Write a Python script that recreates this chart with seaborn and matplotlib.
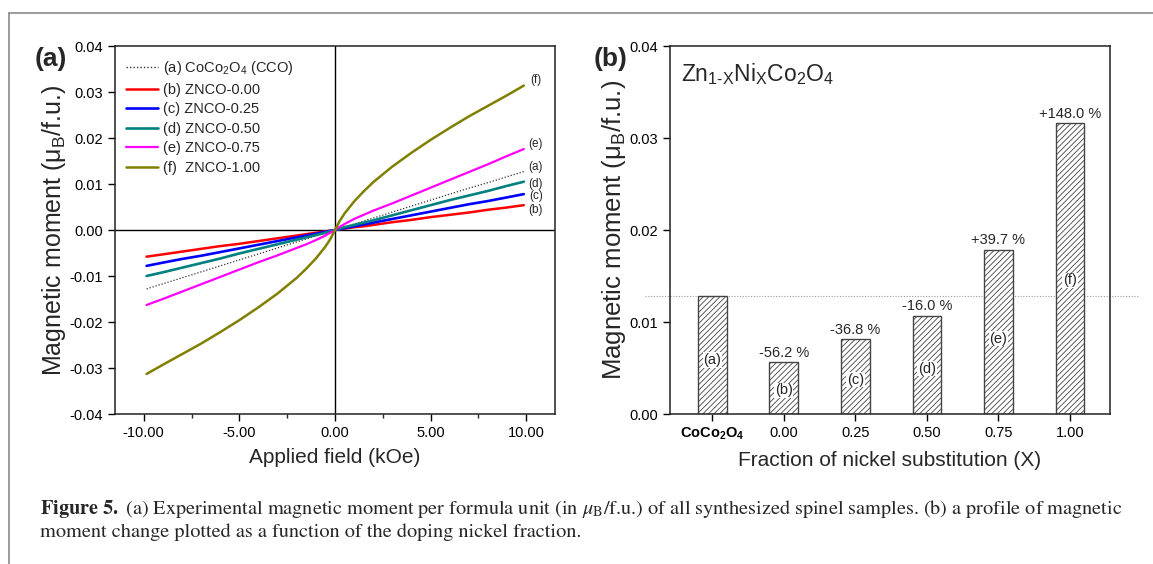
import numpy as np
import pandas as pd
import matplotlib
matplotlib.use("Agg")
import matplotlib.pyplot as plt
from matplotlib.lines import Line2D
import seaborn as sns

# ---------------- data ----------------
field = [-9.85, -9, -8, -7, -6, -5, -4, -3, -2, -1.5, -1, -0.5, -0.25, 0,
         0.25, 0.5, 1, 1.5, 2, 3, 4, 5, 6, 7, 8, 9, 9.87]
m_cco = [-0.0128, -0.0117, -0.0104, -0.0091, -0.0078, -0.0065, -0.0052, -0.0039, -0.0026, -0.00195, -0.0013, -0.00065, -0.0003, 0,
         0.0003, 0.00065, 0.0013, 0.00195, 0.0026, 0.0039, 0.0052, 0.0065, 0.0078, 0.0091, 0.0103, 0.0116, 0.0127]
m_000 = [-0.0058, -0.0053, -0.0047, -0.0041, -0.0035, -0.0030, -0.0024, -0.0018, -0.0012, -0.0009, -0.0006, -0.0003, -0.00015, 0,
         0.00015, 0.0003, 0.0006, 0.0008, 0.0011, 0.0017, 0.0022, 0.0028, 0.0033, 0.0038, 0.0044, 0.0049, 0.0054]
m_025 = [-0.0078, -0.0071, -0.0063, -0.0056, -0.0048, -0.0040, -0.0032, -0.0024, -0.0016, -0.0012, -0.0008, -0.0004, -0.0002, 0,
         0.0002, 0.0004, 0.0008, 0.0012, 0.0016, 0.0024, 0.0032, 0.0040, 0.0048, 0.0056, 0.0063, 0.0071, 0.0078]
m_050 = [-0.0100, -0.0092, -0.0082, -0.0072, -0.0062, -0.0051, -0.0041, -0.0031, -0.0021, -0.0016, -0.0011, -0.0006, -0.0003, 0,
         0.0003, 0.0006, 0.0011, 0.0016, 0.0021, 0.0032, 0.0043, 0.0054, 0.0065, 0.0075, 0.0085, 0.0096, 0.0105]
m_075 = [-0.0163, -0.0150, -0.0134, -0.0118, -0.0102, -0.0086, -0.0070, -0.0055, -0.0039, -0.0031, -0.0022, -0.0012, -0.0006, 0,
         0.0007, 0.0013, 0.0024, 0.0033, 0.0042, 0.0058, 0.0075, 0.0092, 0.0109, 0.0126, 0.0143, 0.0161, 0.0176]
m_100 = [-0.0313, -0.0293, -0.0270, -0.0247, -0.0222, -0.0196, -0.0168, -0.0138, -0.0104, -0.0084, -0.0062, -0.0036, -0.0020, 0,
         0.0020, 0.0036, 0.0062, 0.0084, 0.0104, 0.0138, 0.0168, 0.0196, 0.0222, 0.0247, 0.0270, 0.0293, 0.0314]

series_labels = ["(a) CoCo$_2$O$_4$ (CCO)", "(b) ZNCO-0.00", "(c) ZNCO-0.25",
                 "(d) ZNCO-0.50", "(e) ZNCO-0.75", "(f)  ZNCO-1.00"]
end_tags = ["(a)", "(b)", "(c)", "(d)", "(e)", "(f)"]

bar_categories = ["CoCo2O4", "0.00", "0.25", "0.50", "0.75", "1.00"]
bar_values = [0.0128, 0.0056, 0.0081, 0.0107, 0.0178, 0.0316]
bar_tags = ["(a)", "(b)", "(c)", "(d)", "(e)", "(f)"]
bar_changes = ["", "-56.2 %", "-36.8 %", "-16.0 %", "+39.7 %", "+148.0 %"]

# ---------------- style ----------------
sns.set_style("ticks")
plt.rcParams["font.family"] = ["Liberation Sans", "DejaVu Sans"]
plt.rcParams["mathtext.fontset"] = "custom"
plt.rcParams["mathtext.rm"] = "Liberation Sans"
plt.rcParams["mathtext.it"] = "Liberation Sans:italic"
plt.rcParams["mathtext.bf"] = "Liberation Sans:bold"
plt.rcParams["axes.unicode_minus"] = False
plt.rcParams["hatch.linewidth"] = 0.6

fig = plt.figure(figsize=(11.53, 5.64), dpi=100)
W, H = 1153, 564

def axrect(l, t, r, b):
    return [l / W, 1 - b / H, (r - l) / W, (b - t) / H]

ax1 = fig.add_axes(axrect(115, 46, 555, 414))
ax2 = fig.add_axes(axrect(670, 46, 1110, 414))

# ---------------- panel (a) ----------------
ys = [m_cco, m_000, m_025, m_050, m_075, m_100]
colors = ["#333333", "#FF0000", "#0000FF", "#008080", "#FF00FF", "#808000"]
styles = [(0, (1, 1.5)), "-", "-", "-", "-", "-"]
widths = [0.9, 1.8, 1.9, 1.9, 1.6, 1.8]
for y, c, ls, lw, lab in zip(ys, colors, styles, widths, series_labels):
    sns.lineplot(x=field, y=y, ax=ax1, color=c, linestyle=ls, linewidth=lw,
                 label=lab, sort=False, estimator=None)

ax1.axhline(0, color="black", lw=1.0, zorder=0)
ax1.axvline(0, color="black", lw=1.0, zorder=0)
ax1.set_xlim(-11.5, 11.5)
ax1.set_ylim(-0.04, 0.04)
ax1.set_xticks([-10, -5, 0, 5, 10])
ax1.set_xticklabels(["-10.00", "-5.00", "0.00", "5.00", "10.00"])
ax1.set_xticks([-7.5, -2.5, 2.5, 7.5], minor=True)
yt = [-0.04, -0.03, -0.02, -0.01, 0.0, 0.01, 0.02, 0.03, 0.04]
ax1.set_yticks(yt)
ax1.set_yticklabels([f"{v:.2f}" for v in yt])
ax1.tick_params(axis="both", which="major", direction="out", length=5, width=1,
                labelsize=10.5, colors="black")
ax1.tick_params(axis="both", which="minor", direction="out", length=3, width=1)
ax1.set_xlabel("Applied field (kOe)", fontsize=15, labelpad=6)
ax1.set_ylabel("Magnetic moment (μ$_\\mathregular{B}$/f.u.)", fontsize=18)
ax1.yaxis.set_label_coords(-0.106, 0.5)
for s in ax1.spines.values():
    s.set_visible(True)
    s.set_linewidth(1.1)
    s.set_color("#222222")

leg_handles = [Line2D([0], [0], color=c, linestyle=ls, lw=lw if lw > 1 else 1.0)
               for c, ls, lw in zip(colors, styles, widths)]
ax1.legend(leg_handles, series_labels, loc="upper left", bbox_to_anchor=(-0.005, 1.0),
           frameon=False, fontsize=10.5, handlelength=2.2, handletextpad=0.35,
           labelspacing=0.38, borderaxespad=0.5)

tag_y = [0.0136, 0.0043, 0.0073, 0.0101, 0.0188, 0.0325]
for t, ty in zip(end_tags, tag_y):
    ax1.text(10.5, ty, t, fontsize=8.5, ha="center", va="center")

ax1.text(-0.145, 0.965, "(a)", transform=ax1.transAxes, fontsize=19, fontweight="bold",
         ha="center", va="center")

# ---------------- panel (b) ----------------
df = pd.DataFrame({"cat": bar_categories, "val": bar_values})
sns.barplot(data=df, x="cat", y="val", ax=ax2, color="white", width=0.4,
            edgecolor="#333333", linewidth=1.0, saturation=1)
for p in ax2.patches:
    p.set_hatch("//////")
    p.set_facecolor("white")
    p.set_edgecolor("#444444")

ax2.set_xlim(-0.59, 5.56)
ax2.set_ylim(0, 0.04)
yt2 = [0.0, 0.01, 0.02, 0.03, 0.04]
ax2.set_yticks(yt2)
ax2.set_yticklabels([f"{v:.2f}" for v in yt2])
ax2.set_xticks(range(len(bar_categories)))
xlabels = [r"$\mathbf{CoCo_2O_4}$"] + bar_categories[1:]
ax2.set_xticklabels(xlabels)
ax2.tick_params(axis="both", which="major", direction="out", length=5, width=1,
                labelsize=10.5, colors="black")
ax2.set_xlabel("Fraction of nickel substitution (X)", fontsize=15, labelpad=6)
ax2.set_ylabel("Magnetic moment (μ$_\\mathregular{B}$/f.u.)", fontsize=18.5)
ax2.yaxis.set_label_coords(-0.096, 0.5)
for s in ax2.spines.values():
    s.set_visible(True)
    s.set_linewidth(1.1)
    s.set_color("#222222")

ref = bar_values[0]
ax2.plot([-0.94, 5.97], [ref, ref], color="#999999", lw=0.8, linestyle=(0, (1, 1.5)),
         clip_on=False, zorder=0)

for i, (v, t, ch) in enumerate(zip(bar_values, bar_tags, bar_changes)):
    ax2.text(i, v * 0.46, t, fontsize=10.5, ha="center", va="center",
             bbox=dict(facecolor="white", edgecolor="none", pad=0.5))
    if ch:
        ax2.text(i, v + 0.0003, ch, fontsize=10.5, ha="center", va="bottom")

ax2.text(0.025, 0.925,
         "Zn$_{\\mathregular{1\u2010X}}$Ni$_{\\mathregular{X}}$Co$_{\\mathregular{2}}$O$_{\\mathregular{4}}$",
         transform=ax2.transAxes, fontsize=16.5, ha="left", va="center")
ax2.text(-0.135, 0.965, "(b)", transform=ax2.transAxes, fontsize=19, fontweight="bold",
         ha="center", va="center")

# ---------------- frame and caption ----------------
fig.add_artist(Line2D([9 / W, 9 / W], [0, 1 - 13 / H], color="#8a8a8a", lw=1.2,
                      transform=fig.transFigure))
fig.add_artist(Line2D([9 / W, 1], [1 - 13 / H, 1 - 13 / H], color="#8a8a8a", lw=1.2,
                      transform=fig.transFigure))

cap1 = (r"$\mathbf{Figure\ 5.}$ (a) Experimental magnetic moment per formula unit (in $\mu_{\mathrm{B}}$/f.u.) "
        "of all synthesized spinel samples. (b) a profile of magnetic")
cap2 = "moment change plotted as a function of the doping nickel fraction."
fig.text(40 / W, 1 - 514 / H, cap1, fontsize=14.6, family="STIXGeneral",
         math_fontfamily="stix", ha="left", va="baseline")
fig.text(40 / W, 1 - 537 / H, cap2, fontsize=14.6, family="STIXGeneral",
         math_fontfamily="stix", ha="left", va="baseline")

fig.savefig("out.png", dpi=100)
